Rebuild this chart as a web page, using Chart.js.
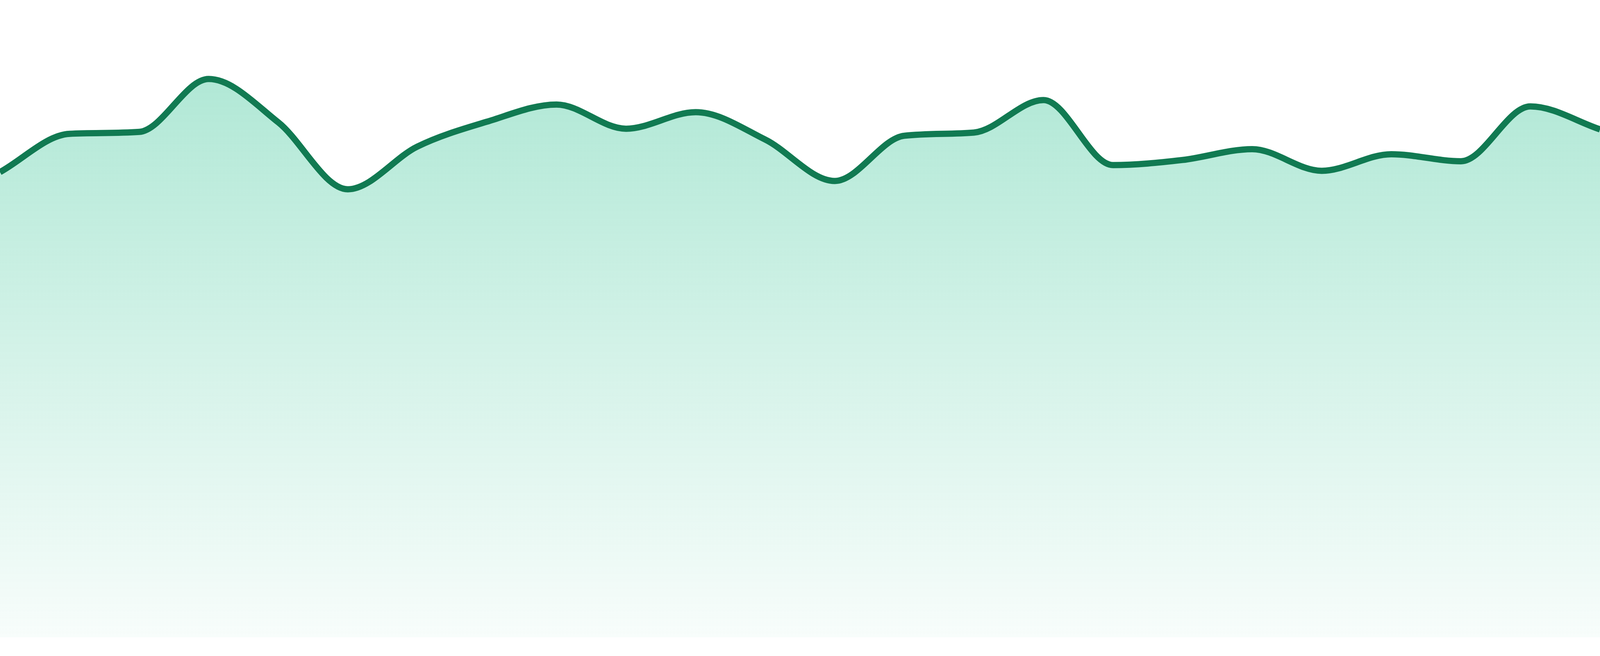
<!DOCTYPE html>
<html>
<head>
<meta charset="utf-8">
<script src="https://cdn.jsdelivr.net/npm/chart.js@4.4.1/dist/chart.umd.min.js"></script>
<style>
  html, body { margin: 0; padding: 0; width: 100%; height: 100%; background: #ffffff; overflow: hidden; }
  #wrap { position: relative; width: 100vw; height: 100vh; }
</style>
</head>
<body>
<div id="wrap"><canvas id="areaChart"></canvas></div>
<script>
// categories (no visible labels in the picture)
const labels = ['1', '2', '3', '4', '5', '6', '7', '8', '9', '10', '11', '12',
                '13', '14', '15', '16', '17', '18', '19', '20', '21', '22', '23', '24'];

// series values
const values = [73.0, 79.0, 79.3, 87.6, 80.8, 70.3, 77.0, 80.9, 83.6, 79.8, 82.4, 78.1,
                71.6, 78.7, 79.2, 84.3, 74.1, 74.9, 76.6, 73.2, 75.8, 74.7, 83.3, 79.7];

// hidden y axis range
const yMin = 0;
const yMax = 100;

document.addEventListener('DOMContentLoaded', function() {
    const ctx = document.getElementById('areaChart').getContext('2d');

    // gradient fill, darker at the top
    function fillGradient(context) {
        const area = context.chart.chartArea;
        if (!area) return 'rgba(16, 185, 129, 0.2)';
        const g = context.chart.ctx.createLinearGradient(0, area.top, 0, area.bottom);
        g.addColorStop(0, 'rgba(16, 185, 129, 0.37)');
        g.addColorStop(1, 'rgba(16, 185, 129, 0.03)');
        return g;
    }

    new Chart(ctx, {
        type: 'line',
        data: {
            labels: labels,
            datasets: [{
                data: values,
                borderColor: '#117a52',
                borderWidth: 16,
                backgroundColor: fillGradient,
                fill: 'start',
                pointRadius: 0,
                pointHoverRadius: 0,
                cubicInterpolationMode: 'monotone'
            }]
        },
        options: {
            responsive: true,
            maintainAspectRatio: false,
            animation: false,
            // white band under the fill, as in the picture
            layout: { padding: { left: 0, right: 0, top: 0, bottom: 48 }, autoPadding: false },
            plugins: { legend: { display: false }, tooltip: { enabled: false } },
            scales: {
                x: { display: false, offset: false },
                y: { display: false, min: yMin, max: yMax }
            }
        }
    });
});
</script>
</body>
</html>
